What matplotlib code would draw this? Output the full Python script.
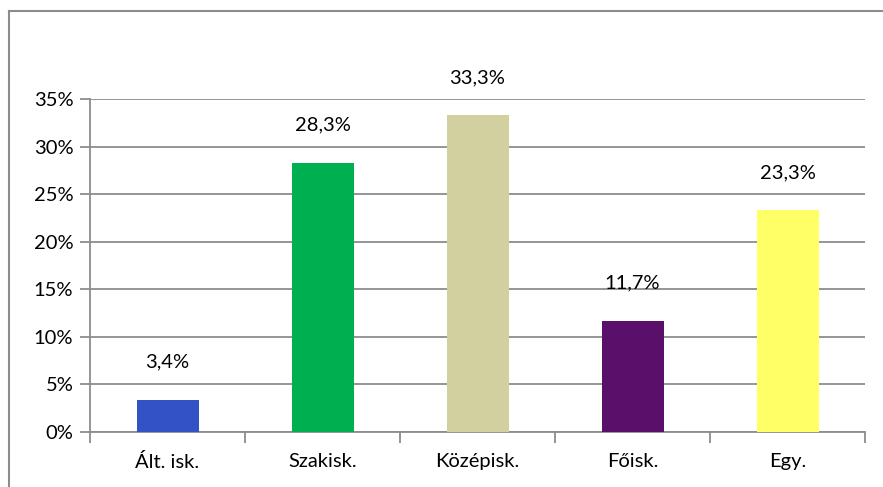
import matplotlib
matplotlib.use("Agg")
import matplotlib.pyplot as plt
from matplotlib.lines import Line2D
from matplotlib.ticker import FuncFormatter

categories = ["Ált. isk.", "Szakisk.", "Középisk.", "Főisk.", "Egy."]
values = [3.4, 28.3, 33.3, 11.7, 23.3]
labels = ["3,4%", "28,3%", "33,3%", "11,7%", "23,3%"]
colors = ["#3352C6", "#00B050", "#D3D0A0", "#5A0F6A", "#FFFF66"]
yticks = [0, 5, 10, 15, 20, 25, 30, 35]

plt.rcParams['font.family'] = ['Lato', 'DejaVu Sans']
W, H = 883, 487
fig = plt.figure(figsize=(W/100, H/100), dpi=100)
ax = fig.add_axes([90/W, 1-432/H, (865-90)/W, (432-99)/H])

x = list(range(len(categories)))
ax.bar(x, values, width=0.4, color=colors, zorder=3)
ax.set_xlim(-0.5, len(categories)-0.5)
ax.set_ylim(0, 35)
ax.set_yticks(yticks)
ax.yaxis.set_major_formatter(FuncFormatter(lambda v, p: f"{int(v)}%"))
ax.set_xticks([i - 0.5 for i in range(len(categories)+1)], minor=False)
ax.set_xticklabels([])
ax.set_xticks(x, minor=True)
ax.set_xticklabels(categories, minor=True)
ax.tick_params(axis='x', which='minor', length=0, pad=15, labelsize=14.5)
ax.tick_params(axis='x', which='major', length=8, color='#8c8c8c', width=1.3)
ax.tick_params(axis='y', length=7, color='#8c8c8c', width=1.3, labelsize=14.5, pad=5)
ax.grid(axis='y', color='#8c8c8c', linewidth=1.3, zorder=0)
for s in ['top', 'right']:
    ax.spines[s].set_visible(False)
for s in ['left', 'bottom']:
    ax.spines[s].set_color('#8c8c8c')
    ax.spines[s].set_linewidth(1.3)

for xi, v, lab in zip(x, values, labels):
    ax.annotate(lab, (xi, v), xytext=(0, 21), textcoords='offset points',
                ha='center', va='bottom', fontsize=14.5, clip_on=False)

fig.add_artist(Line2D([9/W, 9/W], [0, 1-11/H], color='#8c8c8c', linewidth=1.5, transform=fig.transFigure))
fig.add_artist(Line2D([9/W, 1], [1-11/H, 1-11/H], color='#8c8c8c', linewidth=1.5, transform=fig.transFigure))

fig.savefig("out.png", dpi=100)
